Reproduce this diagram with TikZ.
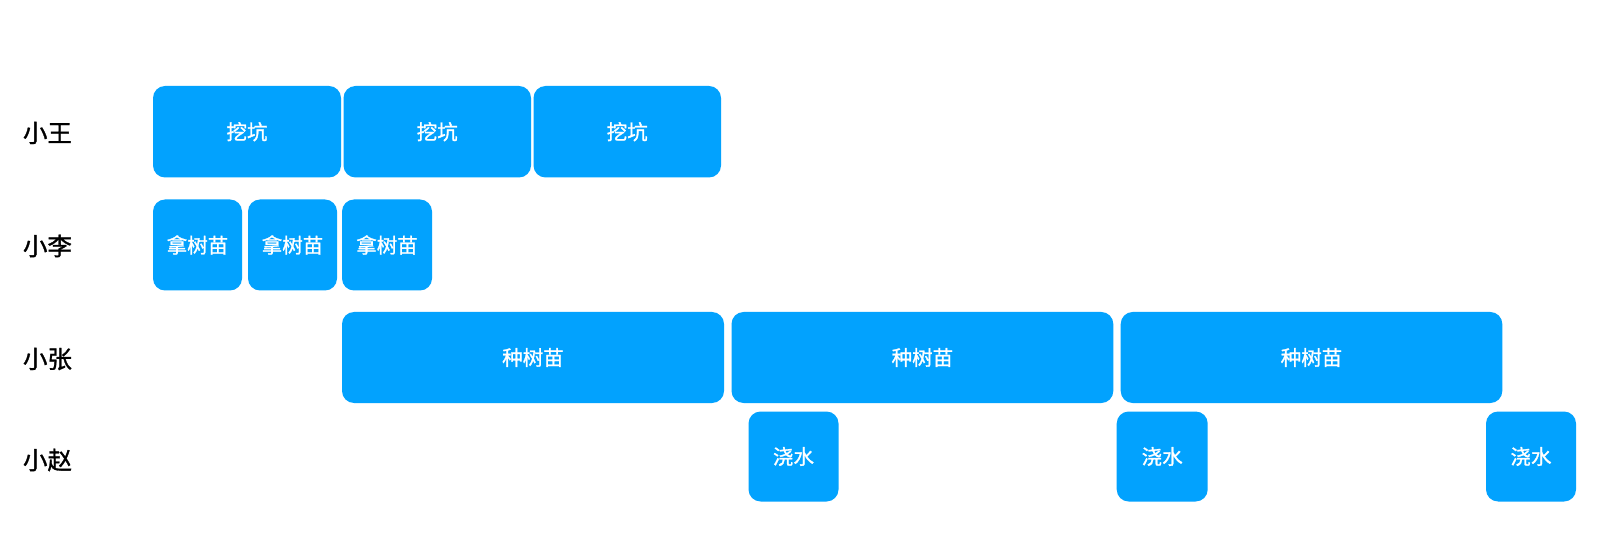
\documentclass[tikz,border=0pt]{standalone}
\usepackage{fontspec}
\newfontfamily\cjk{Noto Sans CJK SC}
\newfontfamily\cjkb[FakeBold=1.2]{Noto Sans CJK SC}
\definecolor{taskblue}{HTML}{02A2FE}
\tikzset{
  task/.style={fill=taskblue, rounded corners=12pt, inner sep=0pt, text=white,
    font=\cjkb\fontsize{20.5}{24}\selectfont, anchor=center},
  who/.style={inner sep=0pt, text=black, font=\cjkb\fontsize{24.5}{28}\selectfont, anchor=center}
}
\begin{document}
\begin{tikzpicture}[x=1pt,y=-1pt]
\useasboundingbox[fill=white] (0,0) rectangle (1600,534);
% labels
\node[who] (l1) at (47.5,133) {小王};
\node[who] (l2) at (47.5,246) {小李};
\node[who] (l3) at (47.5,359) {小张};
\node[who] (l4) at (47.5,460) {小赵};
% row 1
\node[task, minimum width=188pt, minimum height=91.5pt] (a1) at (247,131.75) {挖坑};
\node[task, minimum width=187.5pt, minimum height=91.5pt] (a2) at (437.25,131.75) {挖坑};
\node[task, minimum width=187.5pt, minimum height=91.5pt] (a3) at (627.25,131.75) {挖坑};
% row 2
\node[task, minimum width=89pt, minimum height=91pt] (b1) at (197.5,245) {拿树苗};
\node[task, minimum width=89pt, minimum height=91pt] (b2) at (292.5,245) {拿树苗};
\node[task, minimum width=90pt, minimum height=91pt] (b3) at (387,245) {拿树苗};
% row 3
\node[task, minimum width=382pt, minimum height=91pt] (c1) at (533,357.5) {种树苗};
\node[task, minimum width=381.8pt, minimum height=91pt] (c2) at (922.4,357.5) {种树苗};
\node[task, minimum width=381.6pt, minimum height=91pt] (c3) at (1311.5,357.5) {种树苗};
% row 4
\node[task, minimum width=90pt, minimum height=90pt] (d1) at (793.5,456.5) {浇水};
\node[task, minimum width=91pt, minimum height=90pt] (d2) at (1162.2,456.5) {浇水};
\node[task, minimum width=90pt, minimum height=90pt] (d3) at (1531,456.5) {浇水};
\end{tikzpicture}
\end{document}
